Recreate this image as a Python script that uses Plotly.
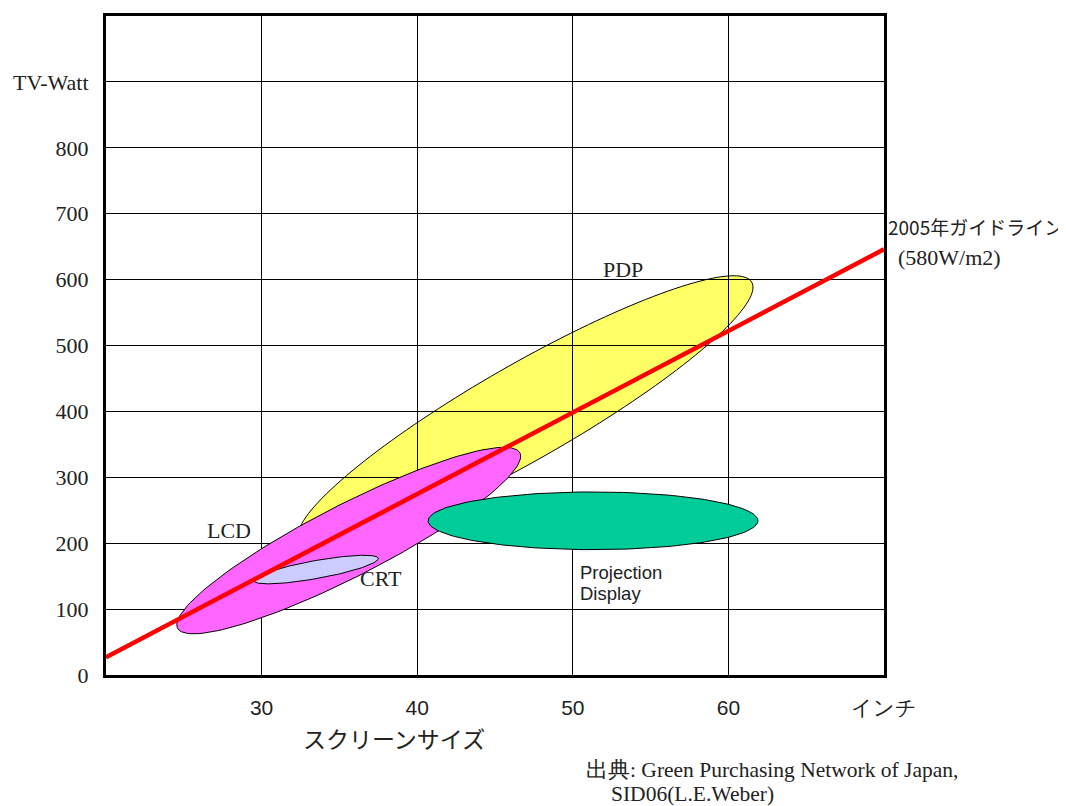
import numpy as np
import plotly.graph_objects as go

# ---- data ----
size_ticks = [30, 40, 50, 60, 70]
size_tick_text = ["30", "40", "50", "60", "インチ"]
watt_ticks = [0, 100, 200, 300, 400, 500, 600, 700, 800, 900]
watt_tick_text = ["0", "100", "200", "300", "400", "500", "600", "700", "800", "TV-Watt"]

# 2005 guideline (580 W/m2)
guide_size = [20, 70]
guide_watt = [27, 646]

# technology regions: ends of the long axis (inch, W) and half width (inch-equivalent)
pdp_size, pdp_watt, pdp_half = [32.4, 61.5], [203, 596], 3.08
lcd_size, lcd_watt, lcd_half = [24.6, 46.6], [71, 337], 2.31
crt_size, crt_watt, crt_half = [29.5, 37.5], [143, 177], 0.58
proj_size, proj_watt, proj_half = [40.7, 61.9], [234, 234], 1.86

# page has an 8px body margin: figure is shifted accordingly
W, H = 1058, 798
ML, MR, MT, MB = 97, 182, 5, 131
XR = [20, 70]
YR = [0, 1000]
px_per_x = (W - ML - MR) / (XR[1] - XR[0])
px_per_y = (H - MT - MB) / (YR[1] - YR[0])
k = px_per_x / px_per_y  # watts per inch on screen


def ellipse(xs, ys, half, n=160):
    u1, v1 = xs[0], ys[0] / k
    u2, v2 = xs[1], ys[1] / k
    cu, cv = (u1 + u2) / 2, (v1 + v2) / 2
    a = np.hypot(u2 - u1, v2 - v1) / 2
    th = np.arctan2(v2 - v1, u2 - u1)
    t = np.linspace(0, 2 * np.pi, n)
    u = cu + a * np.cos(t) * np.cos(th) - half * np.sin(t) * np.sin(th)
    v = cv + a * np.cos(t) * np.sin(th) + half * np.sin(t) * np.cos(th)
    return u, v * k


fig = go.Figure()

# PDP as a shape below the grid (grid lines show through in the reference)
px_, py_ = ellipse(pdp_size, pdp_watt, pdp_half)
path = "M " + " L ".join(f"{a:.3f},{b:.3f}" for a, b in zip(px_, py_)) + " Z"
fig.add_shape(type="path", path=path, xref="x", yref="y", layer="below",
              fillcolor="#FFFF66", line=dict(color="black", width=1))

for xs, ys, hw, col in [(lcd_size, lcd_watt, lcd_half, "#FF66FF"),
                        (crt_size, crt_watt, crt_half, "#CCCCFF"),
                        (proj_size, proj_watt, proj_half, "#00CC99")]:
    ex, ey = ellipse(xs, ys, hw)
    fig.add_trace(go.Scatter(x=ex, y=ey, mode="lines", fill="toself",
                             fillcolor=col, line=dict(color="black", width=1),
                             hoverinfo="skip", showlegend=False))

fig.add_trace(go.Scatter(x=guide_size, y=guide_watt, mode="lines",
                         line=dict(color="#FF0000", width=4.5),
                         showlegend=False))

serif = "Liberation Serif"
cjk = "Noto Sans CJK JP"

fig.update_layout(
    xaxis=dict(range=XR, tickmode="array", tickvals=size_ticks, ticktext=size_tick_text,
               showgrid=True, gridcolor="black", gridwidth=1.4,
               showline=True, linecolor="black", linewidth=3, mirror=True,
               ticks="", ticklabelstandoff=12, zeroline=False,
               tickfont=dict(family="Liberation Sans", size=21, color="#222")),
    yaxis=dict(range=YR, tickmode="array", tickvals=watt_ticks, ticktext=watt_tick_text,
               showgrid=True, gridcolor="black", gridwidth=1.4,
               showline=True, linecolor="black", linewidth=3, mirror=True,
               ticks="", ticklabelstandoff=10, zeroline=False,
               tickfont=dict(family=serif, size=22, color="#222")),
)

ann = []
def lab(x, y, text, xref="x", yref="y", xanchor="center", font=serif, size=22, align="left"):
    ann.append(dict(x=x, y=y, xref=xref, yref=yref, text=text, showarrow=False,
                    xanchor=xanchor, yanchor="middle", align=align,
                    font=dict(family=font, size=size, color="#222")))

lab(53.2, 615, "PDP")
lab(27.9, 219, "LCD")
lab(37.7, 146, "CRT")
lab(50.35, 156, "Projection", xanchor="left", font="Liberation Sans", size=18.5)
lab(50.35, 123, "Display", xanchor="left", font="Liberation Sans", size=18.5)
lab(1.003, 0.680, "2005年ガイドライン", xref="paper", yref="paper", xanchor="left", font=cjk, size=19)
lab(1.016, 0.633, "(580W/m2)", xref="paper", yref="paper", xanchor="left", size=22)
lab(0.37, -0.096, "スクリーンサイズ", xref="paper", yref="paper", font=cjk, size=23)
lab(0.614, -0.1435, "出典: Green Purchasing Network of Japan,", xref="paper", yref="paper",
    xanchor="left", size=21.5)
lab(0.646, -0.181, "SID06(L.E.Weber)", xref="paper", yref="paper", xanchor="left", size=21.5)

fig.update_layout(width=W, height=H, margin=dict(l=ML, r=MR, t=MT, b=MB),
                  font=dict(family=serif, color="#222"),
                  plot_bgcolor="white", paper_bgcolor="white",
                  annotations=ann, showlegend=False)

fig.write_html("out.html")
